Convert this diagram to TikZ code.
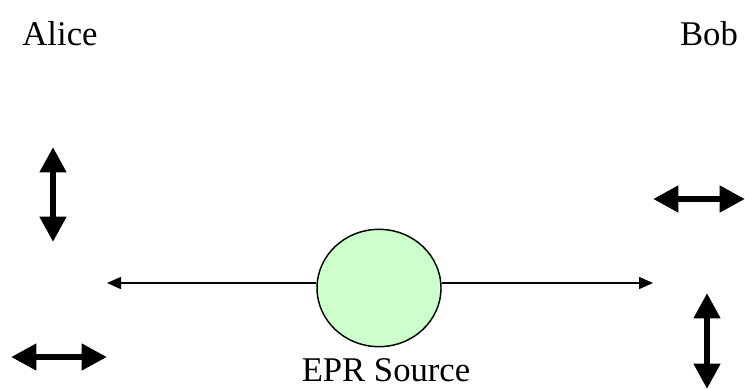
\documentclass[tikz,border=0pt]{standalone}
\usepackage{fontspec}
\setmainfont{Liberation Serif}
\usetikzlibrary{arrows.meta,shapes.geometric}
\tikzset{
  label/.style={font=\fontsize{26}{30}\selectfont, inner sep=0pt},
  pol/.style={line width=5pt, {Triangle[length=19pt,width=19pt]}-{Triangle[length=19pt,width=19pt]}},
  beam/.style={line width=1.1pt, -{Triangle[length=10.5pt,width=9pt]}}
}
\begin{document}
\begin{tikzpicture}[x=0.75pt,y=-0.75pt]
  \useasboundingbox (0,0) rectangle (745,389);
  \node[label](alice) at (60,34) {Alice};
  \node[label](bob) at (709,34) {Bob};
  \node[ellipse,draw,line width=1.1pt,fill={rgb,255:red,204;green,255;blue,204},
        minimum width=93pt,minimum height=88pt,inner sep=0pt](src) at (379,288) {};
  \node[label](srclabel) at (386,370) {EPR Source};
  % Alice's polarisers
  \coordinate(av1) at (53,147);
  \coordinate(av2) at (53,242);
  \coordinate(ah1) at (11,357);
  \coordinate(ah2) at (107,357);
  \draw[pol] (av1) -- (av2);
  \draw[pol] (ah1) -- (ah2);
  % Bob's polarisers
  \coordinate(bh1) at (653,199);
  \coordinate(bh2) at (745,199);
  \coordinate(bv1) at (707,293);
  \coordinate(bv2) at (707,389);
  \draw[pol] (bh1) -- (bh2);
  \draw[pol] (bv1) -- (bv2);
  % beams
  \coordinate(toA) at (107,283);
  \coordinate(toB) at (653,283);
  \draw[beam] (src.west |- toA) -- (toA);
  \draw[beam] (src.east |- toB) -- (toB);
\end{tikzpicture}
\end{document}
